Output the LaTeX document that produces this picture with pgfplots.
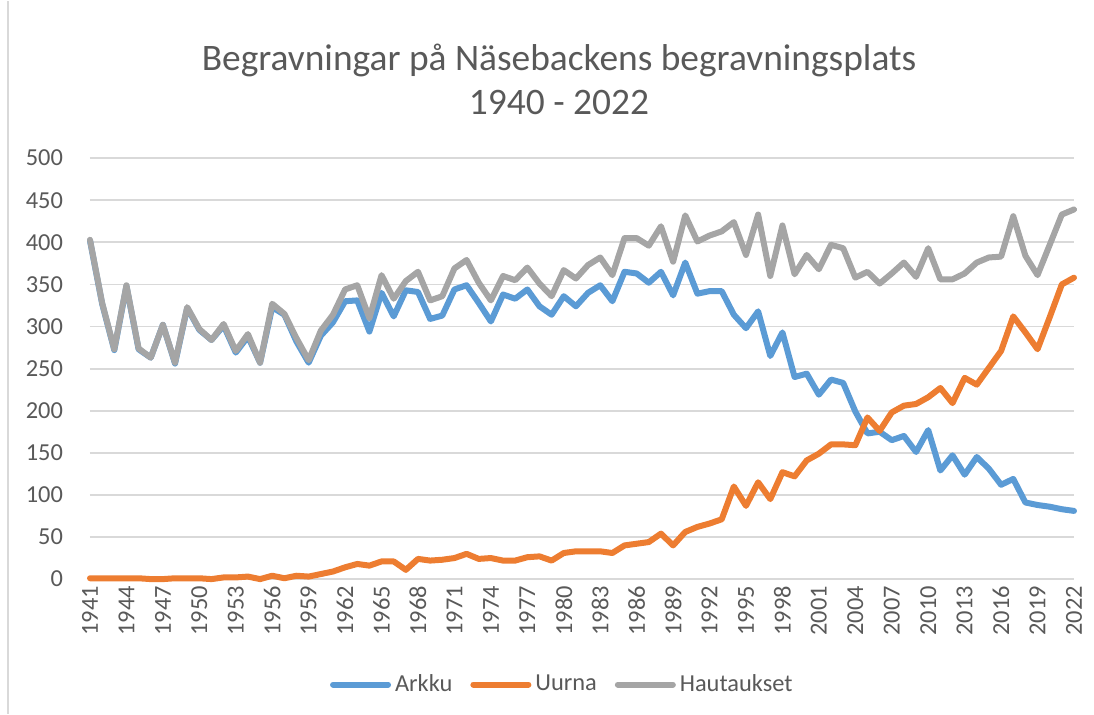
\documentclass[border=0pt]{standalone}
\usepackage{pgfplots}
\pgfplotsset{compat=1.18}
\usepackage{pgfplotstable}
\usepackage{fontspec}
\setmainfont{Carlito}
\definecolor{cblue}{HTML}{5B9BD5}
\definecolor{corange}{HTML}{ED7D31}
\definecolor{cgray}{HTML}{A5A5A5}
\definecolor{ctext}{HTML}{595959}
\definecolor{cgrid}{HTML}{D9D9D9}
\pgfplotstableread{
year arkku uurna haut
1941 402 1 403
1942 327 1 328
1943 272 1 273
1944 348 1 349
1945 273 1 274
1946 263 0 263
1947 302 0 302
1948 256 1 257
1949 322 1 323
1950 296 1 297
1951 284 0 284
1952 301 2 303
1953 269 2 271
1954 288 3 291
1955 257 0 257
1956 323 4 327
1957 314 1 315
1958 282 4 286
1959 257 3 260
1960 289 6 295
1961 305 9 314
1962 330 14 344
1963 331 18 349
1964 294 16 310
1965 340 21 361
1966 312 21 333
1967 343 11 354
1968 341 24 365
1969 309 22 331
1970 313 23 336
1971 344 25 369
1972 349 30 379
1973 328 24 352
1974 306 25 331
1975 338 22 360
1976 333 22 355
1977 344 26 370
1978 324 27 351
1979 314 22 336
1980 336 31 367
1981 324 33 357
1982 340 33 373
1983 349 33 382
1984 330 31 361
1985 365 40 405
1986 363 42 405
1987 352 44 396
1988 365 54 419
1989 337 40 377
1990 376 56 432
1991 339 62 401
1992 342 66 408
1993 342 71 413
1994 314 110 424
1995 298 87 385
1996 318 115 433
1997 265 95 360
1998 293 127 420
1999 240 122 362
2000 244 141 385
2001 219 149 368
2002 237 160 397
2003 233 160 393
2004 199 159 358
2005 173 192 365
2006 175 176 351
2007 165 198 363
2008 170 206 376
2009 151 208 359
2010 177 216 393
2011 129 227 356
2012 147 209 356
2013 124 239 363
2014 145 231 376
2015 131 251 382
2016 112 271 383
2017 119 312 431
2018 91 293 384
2019 88 273 361
2020 86 311 397
2021 83 350 433
2022 81 358 439
}\data
\begin{document}
\begin{tikzpicture}
\path (-45pt,-67.25pt) rectangle (502pt,289.25pt);
\draw[cgrid, line width=0.6pt] (-41pt,-67.25pt) -- (-41pt,289.25pt);
\begin{axis}[
  at={(0,0)}, anchor=south west,
  scale only axis, width=492pt, height=210.5pt,
  xmin=1941, xmax=2022, ymin=0, ymax=500,
  xtick={1941,1944,...,2022},
  ytick={0,50,...,500},
  major tick length=0pt,
  axis line style={draw=none},
  ymajorgrids, grid style={cgrid, line width=0.9pt},
  tick label style={font=\fontsize{12.2}{14}\selectfont, text=ctext},
  /pgf/number format/assume math mode=true,
  /pgf/number format/1000 sep={},
  xticklabel style={rotate=90, anchor=east, yshift=0pt},
  yticklabel style={anchor=east, xshift=-10pt},
  clip=false,
  legend columns=3,
  legend style={at={(0.481,-0.2506)}, anchor=center, draw=none, fill=none,
    font=\fontsize{12.2}{14}\selectfont, text=ctext,
    /tikz/every even column/.append style={column sep=7pt}},
  legend image code/.code={\draw[#1, line cap=round] (0pt,0pt) -- (27.5pt,0pt);},
  every axis plot/.append style={line width=3pt, line join=round, line cap=round, mark=none},
]
\addplot[cblue] table[x=year, y=arkku] {\data};
\addlegendentry{Arkku}
\addplot[corange] table[x=year, y=uurna] {\data};
\addlegendentry{Uurna}
\addplot[cgray] table[x=year, y=haut] {\data};
\addlegendentry{Hautaukset}
\end{axis}
\node[text=ctext, font=\fontsize{18.7}{22}\selectfont] at (234.5pt,259.25pt) {Begravningar på Näsebackens begravningsplats};
\node[text=ctext, font=\fontsize{18.7}{22}\selectfont] at (234.5pt,238.25pt) {1940 - 2022};
\end{tikzpicture}
\end{document}
